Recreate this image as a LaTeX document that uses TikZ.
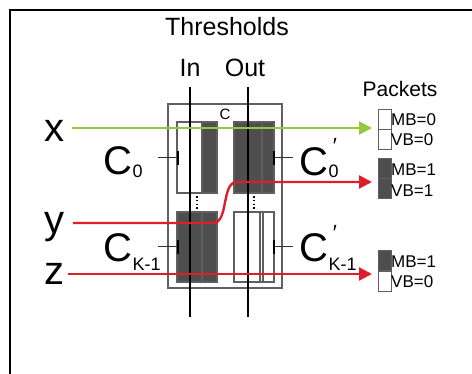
\documentclass[tikz,border=0pt]{standalone}
\usepackage{fontspec}
\setmainfont{Liberation Sans}
\usetikzlibrary{arrows.meta}
\definecolor{dk}{RGB}{78,78,78}
\definecolor{edge}{RGB}{95,95,95}
\definecolor{grn}{RGB}{150,200,60}
\definecolor{rd}{RGB}{222,30,40}
\begin{document}
\begin{tikzpicture}[x=1pt,y=-1pt,
  cell/.style={draw=edge,line width=1.1pt},
  darkcell/.style={cell,fill=dk},
  rail/.style={draw=black,line width=2.2pt},
  wire/.style={line width=2.4pt,-{Triangle[length=13pt,width=13pt]}},
  big/.style={font=\fontsize{40}{40}\selectfont,inner sep=0pt,anchor=base},
  sub/.style={font=\fontsize{18}{18}\selectfont,inner sep=0pt,anchor=base west},
  lbl/.style={font=\fontsize{17}{17}\selectfont,inner sep=0pt,anchor=base west},
  pk/.style={draw=edge,line width=1pt,minimum width=13pt,minimum height=20pt,inner sep=0pt},
  tick/.style={draw=black!80,line width=1pt}]
\useasboundingbox (0,0) rectangle (472,374);
% frame
\draw[line width=2pt] (10,374) -- (10,10) -- (472,10);
% titles
\node[font=\fontsize{25}{25}\selectfont,inner sep=0pt,anchor=base] (thr) at (227,36) {Thresholds};
\node[font=\fontsize{25}{25}\selectfont,inner sep=0pt,anchor=base] (in) at (190,77) {In};
\node[font=\fontsize{25}{25}\selectfont,inner sep=0pt,anchor=base] (out) at (245,77) {Out};
\node[font=\fontsize{21}{21}\selectfont,inner sep=0pt,anchor=base] (pkts) at (400,97) {Packets};
% container C
\draw[cell] (168,104) rectangle (282,288);
\node[font=\fontsize{15}{15}\selectfont,inner sep=0pt] (clab) at (225,114) {C};
% top-left
\fill[dk] (202,122) rectangle (217,193);
\draw[cell] (177,122) rectangle (217,193);
\draw[cell] (202,122) -- (202,193);
% top-right
\draw[darkcell] (234,122) rectangle (274,193);
\draw[cell] (262,122) -- (262,193);
% bottom-left
\draw[darkcell] (177,212) rectangle (217,282);
\draw[cell] (202,212) -- (202,282);
% bottom-right
\draw[cell] (234,212) rectangle (274,282);
\draw[cell] (260,212) -- (260,282);
\draw[cell] (263,212) -- (263,282);
% dots
\draw[line width=1.6pt,dash pattern=on 1.6pt off 2.2pt] (197,196) -- (197,210);
\draw[line width=1.6pt,dash pattern=on 1.6pt off 2.2pt] (254,196) -- (254,210);
% ticks
\draw[tick] (158,158) -- (178,158);
\draw[line width=1.8pt] (178,151) -- (178,165);
\draw[tick] (274,158) -- (293,158);
\draw[line width=1.8pt] (274,151) -- (274,165);
\draw[tick] (158,247) -- (178,247);
\draw[line width=1.8pt] (178,240) -- (178,254);
\draw[tick] (274,247) -- (293,247);
\draw[line width=1.8pt] (274,240) -- (274,254);
% rails
\draw[rail] (190,87) -- (190,317);
\draw[rail] (248,87) -- (248,317);
% capacitor labels
\node[big] (c0) at (118,175) {C};
\node[sub] (c0s) at (132.5,178) {0};
\node[big] (ck) at (118,262) {C};
\node[sub] (cks) at (132.5,271) {K-1};
\node[big] (cp0) at (314,176) {C};
\node[sub] (cp0s) at (328.5,178) {0};
\node[font=\fontsize{22}{22}\selectfont,inner sep=0pt] (cp0p) at (335,146) {\char"2032};
\node[big] (cpk) at (314,262) {C};
\node[sub] (cpks) at (328.5,271) {K-1};
\node[font=\fontsize{22}{22}\selectfont,inner sep=0pt] (cpkp) at (335,233) {\char"2032};
% inputs
\node[big] (lx) at (55,142) {x};
\node[big] (ly) at (55,234) {y};
\node[big] (lz) at (55,285) {z};
% packets
\node[pk] (p1a) at (384.5,119.5) {};
\node[pk] (p1b) at (384.5,139.5) {};
\node[pk,fill=dk] (p2a) at (384.5,168.5) {};
\node[pk,fill=dk] (p2b) at (384.5,188.5) {};
\node[pk,fill=dk] (p3a) at (384.5,261) {};
\node[pk] (p3b) at (384.5,282) {};
\node[lbl] (m1) at (391,126) {MB=0};
\node[lbl] (v1) at (391,146) {VB=0};
\node[lbl] (m2) at (391,176) {MB=1};
\node[lbl] (v2) at (391,197) {VB=1};
\node[lbl] (m3) at (391,268) {MB=1};
\node[lbl] (v3) at (391,288) {VB=0};
% wires
\coordinate (xs) at (72,128);
\coordinate (ys) at (73,223);
\coordinate (zs) at (68,274);
\coordinate (xe) at (372,128);
\coordinate (ye) at (372,182);
\coordinate (ze) at (372,274);
\draw[wire,grn] (xs) -- (xe);
\draw[wire,rd] (ys) -- (213,223) .. controls (229,223) and (221,182) .. (237,182) -- (ye);
\draw[wire,rd] (zs) -- (ze);
\end{tikzpicture}
\end{document}
